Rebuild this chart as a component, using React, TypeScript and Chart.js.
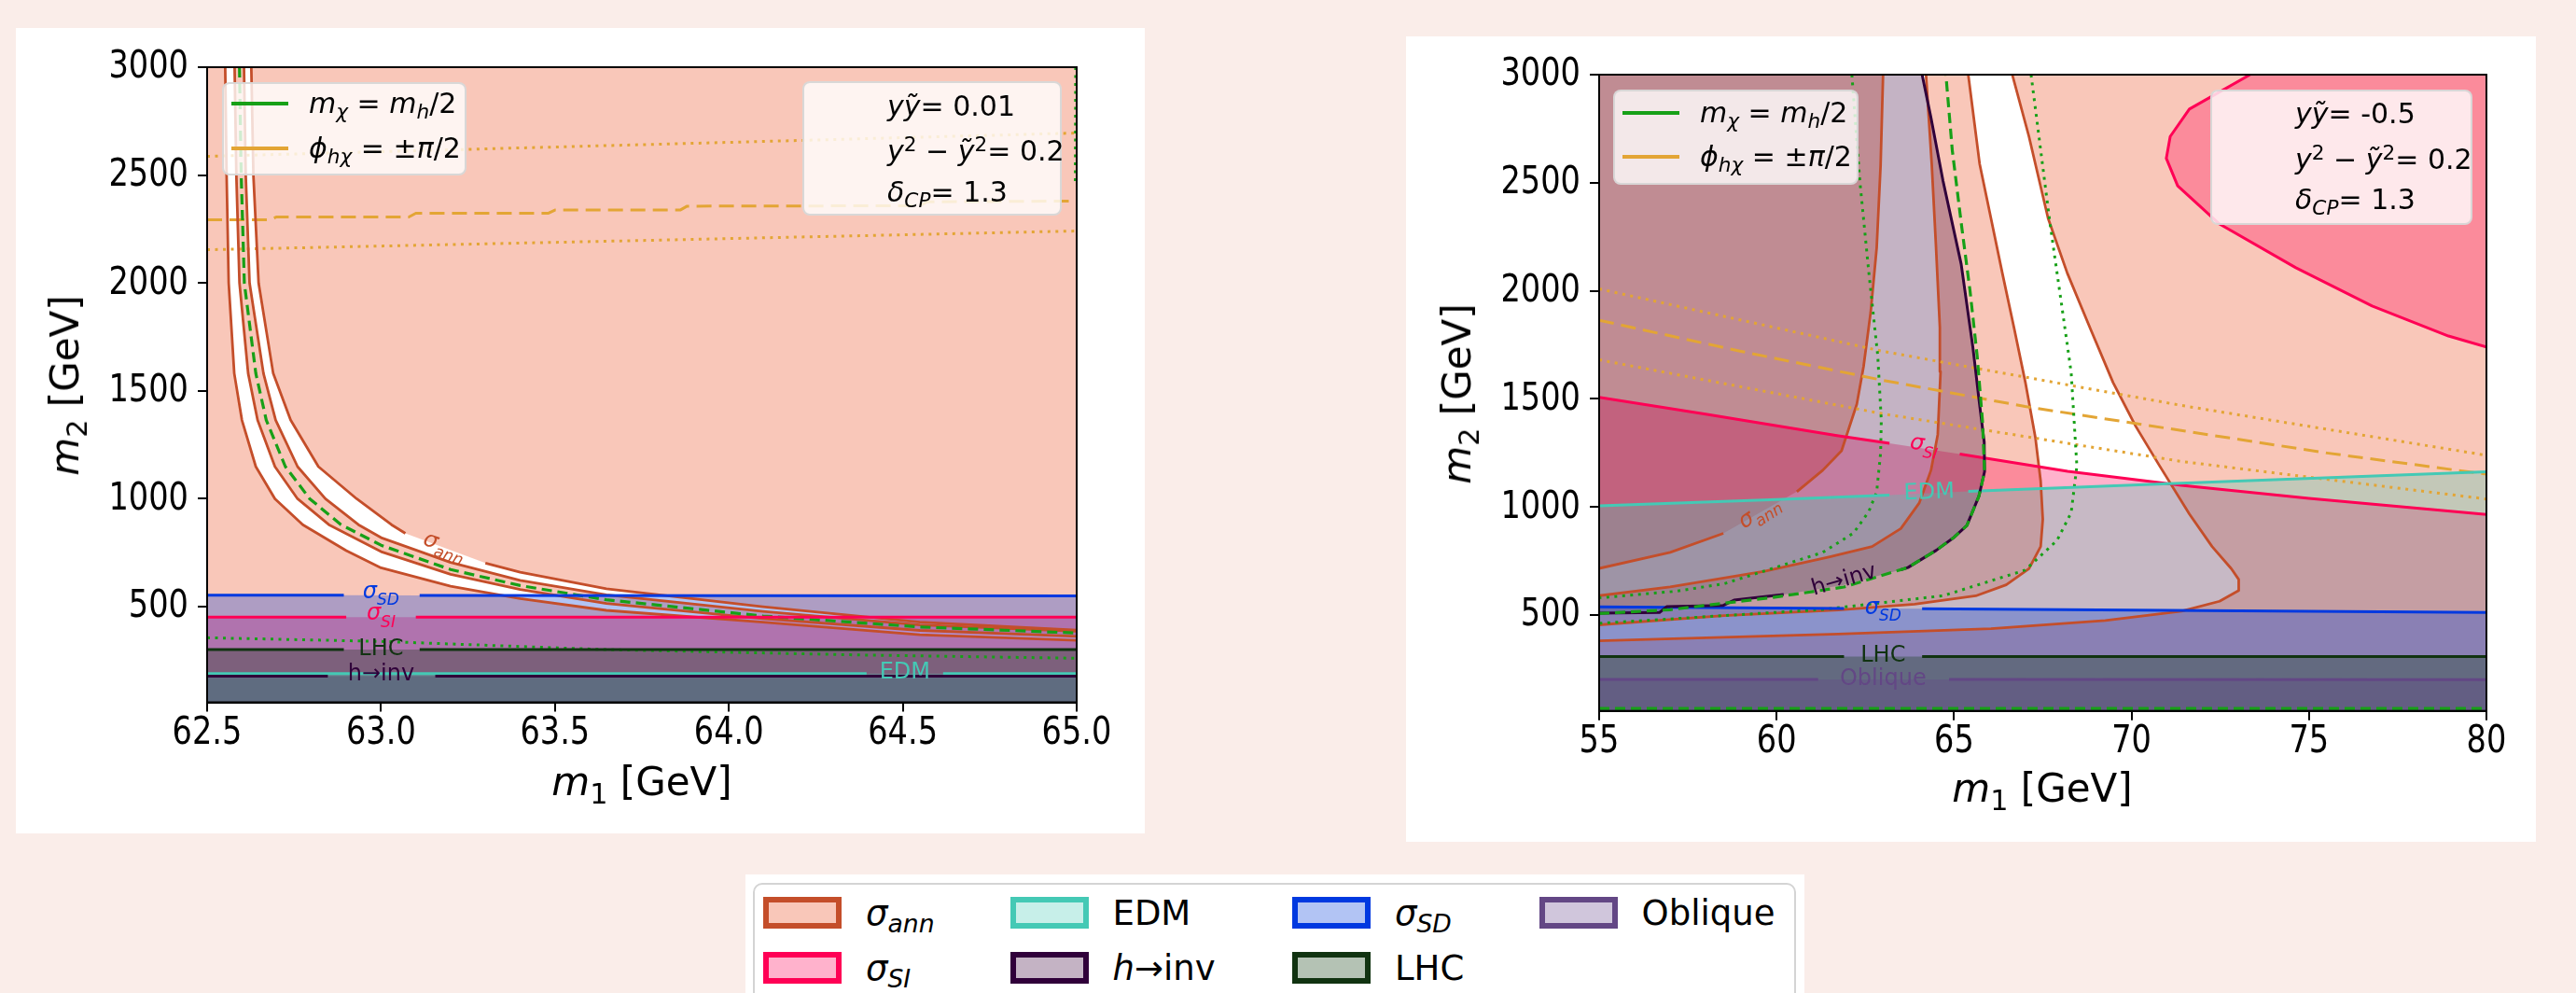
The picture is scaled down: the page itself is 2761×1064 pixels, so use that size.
import React, { useEffect, useRef } from 'react';
import { Chart, registerables } from 'chart.js';

Chart.register(...registerables);

type Pt = [number, number] | null;

// ---------------- shared axis data ----------------
const Y_RANGE: [number, number] = [57, 3000];
const Y_TICKS = [500, 1000, 1500, 2000, 2500, 3000];

// ---------------- left panel (yỹ = 0.01) ----------------
const L_X_RANGE: [number, number] = [62.5, 65.0];
const L_X_TICKS = [62.5, 63.0, 63.5, 64.0, 64.5, 65.0];

const L_ANN_1: Pt[] = [[62.552, 3000], [62.556, 2500], [62.562, 2000], [62.578, 1581], [62.6, 1365], [62.64, 1149], [62.695, 1000], [62.775, 880], [62.9, 760], [63.0, 680], [63.2, 595], [63.4, 538], [63.648, 483], [64.098, 428], [64.549, 370], [65.0, 344]];
const L_ANN_2: Pt[] = [[62.579, 3000], [62.584, 2500], [62.593, 2000], [62.618, 1581], [62.645, 1365], [62.695, 1149], [62.76, 1000], [62.85, 880], [63.0, 755], [63.2, 650], [63.4, 580], [63.648, 515], [64.098, 445], [64.549, 390], [65.0, 362]];
const L_ANN_3: Pt[] = [[62.606, 3000], [62.611, 2500], [62.622, 2000], [62.662, 1581], [62.697, 1365], [62.76, 1149], [62.84, 1000], [62.935, 880], [63.0, 820], [63.2, 705], [63.4, 622], [63.648, 555], [64.098, 478], [64.549, 415], [65.0, 386]];
const L_ANN_4: Pt[] = [[62.627, 3000], [62.633, 2500], [62.648, 2000], [62.69, 1581], [62.74, 1365], [62.82, 1149], [62.93, 1000], [63.03, 880], [63.07, 840], null, [63.3, 702], [63.4, 660], [63.648, 583], [64.098, 500], [64.549, 428], [65.0, 392]];
const L_MCHI: Pt[] = [[62.593, 3000], [62.598, 2500], [62.607, 2000], [62.64, 1581], [62.67, 1365], [62.725, 1149], [62.795, 1000], [62.885, 880], [63.0, 785], [63.2, 672], [63.4, 598], [63.648, 532], [64.098, 457], [64.549, 406], [65.0, 378]];
const L_MCHI_DOT: Pt[] = [[62.5, 356], [63.0, 339], [63.65, 301], [64.38, 276], [65.0, 261]];
const L_MCHI_DOT_EDGE: Pt[] = [[64.997, 3000], [64.996, 2450]];
const L_PHI_DOT_HI: Pt[] = [[62.5, 2587], [63.75, 2641], [65.0, 2695]];
const L_PHI_DASH: Pt[] = [[62.5, 2293], [62.68, 2293], [62.7, 2306], [63.08, 2306], [63.1, 2323], [63.48, 2323], [63.5, 2338], [63.86, 2338], [63.88, 2356], [64.55, 2358], [64.57, 2376], [65.0, 2380]];
const L_PHI_DOT_LO: Pt[] = [[62.5, 2154], [63.75, 2197], [65.0, 2241]];
const L_SD: Pt[] = [[62.5, 553], [62.893, 553], null, [63.111, 552], [65.0, 550]];
const L_SI: Pt[] = [[62.5, 452], [62.9, 452], null, [63.1, 452], [65.0, 452]];
const L_LHC: Pt[] = [[62.5, 301], [62.893, 301], null, [63.111, 301], [65.0, 301]];
const L_EDM: Pt[] = [[62.5, 190], [64.396, 190], null, [64.616, 190], [65.0, 190]];
const L_HINV: Pt[] = [[62.5, 178], [62.847, 178], null, [63.156, 178], [65.0, 178]];

// ---------------- right panel (yỹ = -0.5) ----------------
const R_X_RANGE: [number, number] = [55, 80];
const R_X_TICKS = [55, 60, 65, 70, 75, 80];

const R_ANN_1: Pt[] = [[55, 716], [57, 790], [58.5, 878], null, [60.57, 1071], [61.3, 1170], [61.83, 1260], [62.26, 1476], [62.45, 1650], [62.65, 1900], [62.82, 2200], [62.93, 2580], [63.0, 3000]];
const R_ANN_2: Pt[] = [[55, 590], [57, 630], [59.66, 703], [61.5, 770], [62.69, 817], [63.5, 900], [64.02, 1019], [64.35, 1170], [64.54, 1335], [64.62, 1626], [64.6, 1829], [64.49, 2208], [64.37, 2588], [64.21, 3000]];
const R_ANN_3: Pt[] = [[55, 455], [58.52, 498], [61.74, 524], [63.89, 551], [65.61, 589], [66.47, 640], [67.11, 715], [67.44, 817], [67.5, 943], [67.44, 1120], [67.29, 1323], [67.01, 1576], [66.69, 1829], [66.36, 2082], [66.04, 2335], [65.72, 2588], [65.4, 3000]];
const R_ANN_4: Pt[] = [[55, 381], [61.74, 412], [66.04, 437], [69.26, 475], [71.41, 518], [72.48, 564], [73.02, 614], [73.02, 665], [72.81, 715], [72.27, 817], [71.63, 968], [70.77, 1196], [70.12, 1373], [69.48, 1576], [68.83, 1829], [68.19, 2082], [67.65, 2335], [67.11, 2714], [66.64, 3000]];
const R_HINV: Pt[] = [[55, 509], [56.7, 512], [56.9, 539], [58.5, 545], [58.8, 569], [60.2, 595], null, [63.5, 710], [63.7, 720], [64.5, 800], [65.0, 860], [65.36, 914], [65.7, 1050], [65.86, 1164], [65.85, 1300], [65.7, 1500], [65.6, 1642], [65.53, 1739], [65.2, 2124], [64.69, 2508], [64.35, 2800], [64.1, 3000]];
const R_HINV_FULL: Pt[] = [[55, 509], [56.7, 512], [56.9, 539], [58.5, 545], [58.8, 569], [60.2, 595], [61.9, 640], [63.5, 710], [63.7, 720], [64.5, 800], [65.0, 860], [65.36, 914], [65.7, 1050], [65.86, 1164], [65.85, 1300], [65.7, 1500], [65.6, 1642], [65.53, 1739], [65.2, 2124], [64.69, 2508], [64.35, 2800], [64.1, 3000], [55, 3000]];
const R_MCHI: Pt[] = [[55, 507], [57, 525], [59.9, 582], [61.9, 630], [63.7, 720], [64.5, 800], [65.0, 860], [65.36, 914], [65.7, 1050], [65.86, 1164], [65.8, 1400], [65.65, 1700], [65.45, 2000], [65.2, 2316], [64.95, 2650], [64.77, 3000]];
const R_MCHI_BOTTOM: Pt[] = [[55, 68], [80, 68]];
const R_MCHI_DOT_1: Pt[] = [[62.12, 3000], [62.35, 2500], [62.6, 2082], [62.85, 1700], [62.95, 1400], [62.93, 1250], [62.82, 1070], [62.6, 980], [62.17, 880], [61.3, 790], [60.15, 730], [58.52, 645], [57.15, 610], [55, 580]];
const R_MCHI_DOT_2: Pt[] = [[67.17, 3000], [67.7, 2316], [68.2, 1739], [68.3, 1621], [68.46, 1190], [68.3, 974], [67.9, 845], [67.0, 708], [64.7, 590], [61.3, 526], [55, 462]];
const R_SI: Pt[] = [[55, 1507], [58, 1430], [61.7, 1330], [63.18, 1295], null, [65.16, 1245], [68.2, 1165], [71.4, 1100], [75, 1040], [80, 965]];
const R_SI_ELLIPSE: Pt[] = [[73.34, 3000], [71.63, 2841], [71.09, 2714], [70.98, 2613], [71.3, 2486], [72.48, 2309], [74.63, 2107], [76.78, 1930], [78.93, 1791], [80, 1740]];
const R_EDM: Pt[] = [[55, 1006], [60, 1035], [63.18, 1055], null, [65.4, 1072], [71.4, 1110], [80, 1163]];
const R_SD: Pt[] = [[55, 538], [61.9, 531], null, [64.1, 529], [80, 512]];
const R_LHC: Pt[] = [[55, 308], [61.9, 308], null, [64.1, 308], [80, 308]];
const R_OBL: Pt[] = [[55, 203], [61.17, 203], null, [64.86, 202], [80, 201]];
const R_PHI_DASH: Pt[] = [[55, 1864], [59, 1720], [63, 1586], [67, 1465], [71.4, 1354], [75.5, 1250], [80, 1152]];
const R_PHI_DOT_HI: Pt[] = [[55, 2009], [63, 1720], [71.4, 1470], [80, 1239]];
const R_PHI_DOT_LO: Pt[] = [[55, 1681], [63, 1431], [71.4, 1211], [80, 1037]];

// ---------------- colours ----------------
const C_ANN = '#c44e2a', F_ANN = 'rgba(236,68,24,0.3)';
const C_SI = '#ff0055', F_SI = 'rgba(255,0,85,0.3)';
const C_SD = '#0039e0', F_SD = 'rgba(0,58,218,0.3)';
const C_EDM = '#44c9b5', F_EDM = 'rgba(68,202,182,0.3)';
const C_HINV = '#30003a', F_HINV = 'rgba(58,2,58,0.3)';
const C_LHC = '#113311', F_LHC = 'rgba(8,52,8,0.3)';
const C_OBL = '#634785', F_OBL = 'rgba(98,65,138,0.3)';
const C_GREEN = '#17a017';
const C_PHI = '#e3a535';
const FONT = '"DejaVu Sans", sans-serif';

// ---------------- helpers ----------------
const toXY = (pts: Pt[]) =>
  pts.map((p, i) => {
    if (p) return { x: p[0], y: p[1] };
    const a = pts[i - 1] as [number, number];
    const b = pts[i + 1] as [number, number];
    return { x: (a[0] + b[0]) / 2, y: null };
  });
const solid = (pts: Pt[]) => pts.filter(Boolean) as [number, number][];

const poly = (pts: [number, number][], color: string) => ({
  data: toXY(pts), fill: 'shape', backgroundColor: color, borderColor: 'rgba(0,0,0,0)',
  borderWidth: 0, pointRadius: 0, tension: 0,
});
const line = (pts: Pt[], color: string, width: number, dash: number[] = []) => ({
  data: toXY(pts), fill: false, borderColor: color, borderWidth: width, borderDash: dash,
  pointRadius: 0, tension: 0, borderCapStyle: 'butt', borderJoinStyle: 'round',
});
const rect = (xr: [number, number]) => [[xr[0] - 1, Y_RANGE[0] - 300], [xr[1] + 1, Y_RANGE[0] - 300], [xr[1] + 1, Y_RANGE[1] + 300], [xr[0] - 1, Y_RANGE[1] + 300]] as [number, number][];
const below = (pts: Pt[], xr: [number, number]) => {
  const s = solid(pts);
  return [[xr[0] - 1, s[0][1]], ...s, [xr[1] + 1, s[s.length - 1][1]], [xr[1] + 1, Y_RANGE[0] - 300], [xr[0] - 1, Y_RANGE[0] - 300]] as [number, number][];
};
const band = (a: Pt[], b: Pt[]) => [...solid(a), ...solid(b).reverse()];

const DOT = [3, 5.5];
const DASH_G = [11, 6];
const DASH_O = [16, 8];

function leftDatasets() {
  const xr = L_X_RANGE;
  return [
    poly(rect(xr), F_ANN),
    poly(band(L_ANN_1, L_ANN_2), '#ffffff'),
    poly(band(L_ANN_3, L_ANN_4), '#ffffff'),
    poly(below(L_SI, xr), F_SI),
    poly(below(L_SD, xr), F_SD),
    poly(below(L_LHC, xr), F_LHC),
    poly(below(L_HINV, xr), F_HINV),
    poly(below(L_EDM, xr), F_EDM),
    line(L_PHI_DOT_HI, C_PHI, 3, DOT),
    line(L_PHI_DASH, C_PHI, 3, DASH_O),
    line(L_PHI_DOT_LO, C_PHI, 3, DOT),
    line(L_ANN_1, C_ANN, 2.8),
    line(L_ANN_2, C_ANN, 2.8),
    line(L_ANN_3, C_ANN, 2.8),
    line(L_ANN_4, C_ANN, 2.8),
    line(L_MCHI_DOT, C_GREEN, 3, DOT),
    line(L_MCHI_DOT_EDGE, C_GREEN, 3, DOT),
    line(L_MCHI, C_GREEN, 3.2, DASH_G),
    line(L_SI, C_SI, 3),
    line(L_SD, C_SD, 3),
    line(L_LHC, C_LHC, 3),
    line(L_EDM, C_EDM, 3),
    line(L_HINV, C_HINV, 3),
  ];
}

function rightDatasets() {
  const xr = R_X_RANGE;
  const ellipse = [...solid(R_SI_ELLIPSE), [81, 1715], [81, 3300], [73.5, 3300]] as [number, number][];
  return [
    poly(rect(xr), F_ANN),
    poly(band(R_ANN_1, R_ANN_2), '#ffffff'),
    poly(band(R_ANN_3, R_ANN_4), '#ffffff'),
    poly(below(R_SI, xr), F_SI),
    poly(ellipse, F_SI),
    poly(solid(R_HINV_FULL), F_HINV),
    poly(below(R_EDM, xr), F_EDM),
    poly(below(R_SD, xr), F_SD),
    poly(below(R_LHC, xr), F_LHC),
    poly(below(R_OBL, xr), F_OBL),
    line(R_ANN_1, C_ANN, 2.8),
    line(R_ANN_2, C_ANN, 2.8),
    line(R_ANN_3, C_ANN, 2.8),
    line(R_ANN_4, C_ANN, 2.8),
    line(R_PHI_DOT_HI, C_PHI, 3, DOT),
    line(R_PHI_DASH, C_PHI, 3, DASH_O),
    line(R_PHI_DOT_LO, C_PHI, 3, DOT),
    line(R_MCHI_DOT_1, C_GREEN, 3, DOT),
    line(R_MCHI_DOT_2, C_GREEN, 3, DOT),
    line(R_SI, C_SI, 3),
    line(R_SI_ELLIPSE, C_SI, 3),
    line(R_EDM, C_EDM, 3),
    line(R_SD, C_SD, 3),
    line(R_LHC, C_LHC, 3),
    line(R_OBL, C_OBL, 3),
    line(R_HINV, C_HINV, 3),
    line(R_MCHI, C_GREEN, 3.2, DASH_G),
    line(R_MCHI_BOTTOM, C_GREEN, 3.2, DASH_G),
  ];
}

type Lab = { text: string; sub?: string; x: number; y: number; rot: number; color: string; italic?: boolean };
const L_LABELS: Lab[] = [
  { text: 'σ', sub: 'ann', x: 63.18, y: 768, rot: 20, color: C_ANN, italic: true },
  { text: 'σ', sub: 'SD', x: 63.0, y: 553, rot: 0, color: C_SD, italic: true },
  { text: 'σ', sub: 'SI', x: 63.0, y: 452, rot: 0, color: C_SI, italic: true },
  { text: 'LHC', x: 63.0, y: 304, rot: 0, color: C_LHC },
  { text: 'h→inv', x: 63.0, y: 186, rot: 0, color: C_HINV },
  { text: 'EDM', x: 64.506, y: 196, rot: 0, color: C_EDM },
];
const R_LABELS: Lab[] = [
  { text: 'σ', sub: 'ann', x: 59.55, y: 965, rot: -33, color: C_ANN, italic: true },
  { text: 'σ', sub: 'SI', x: 64.15, y: 1275, rot: 9, color: C_SI, italic: true },
  { text: 'EDM', x: 64.3, y: 1066, rot: -2, color: C_EDM },
  { text: 'h→inv', x: 61.9, y: 660, rot: -16, color: C_HINV },
  { text: 'σ', sub: 'SD', x: 63.0, y: 518, rot: 0, color: C_SD, italic: true },
  { text: 'LHC', x: 63.0, y: 310, rot: 0, color: C_LHC },
  { text: 'Oblique', x: 63.0, y: 203, rot: 0, color: C_OBL },
];

const framePlugin = {
  id: 'frame',
  afterDatasetsDraw(chart: any) {
    const { ctx, chartArea: a } = chart;
    ctx.save();
    ctx.strokeStyle = '#000';
    ctx.lineWidth = 2;
    ctx.strokeRect(a.left, a.top, a.right - a.left, a.bottom - a.top);
    ctx.restore();
  },
};

// tick labels: DejaVu Sans, horizontally narrowed like the reference rendering
const tickLabelPlugin = (xticks: number[], fmt: (v: number) => string) => ({
  id: 'tickLabels',
  afterDraw(chart: any) {
    const { ctx, chartArea: a } = chart;
    const xs = chart.scales.x, ys = chart.scales.y;
    ctx.save();
    ctx.fillStyle = '#000';
    ctx.font = `40px ${FONT}`;
    ctx.textBaseline = 'middle';
    for (const v of xticks) {
      ctx.save();
      ctx.translate(xs.getPixelForValue(v), a.bottom + 34);
      ctx.scale(0.84, 1);
      ctx.textAlign = 'center';
      ctx.fillText(fmt(v), 0, 0);
      ctx.restore();
    }
    for (const v of Y_TICKS) {
      ctx.save();
      ctx.translate(a.left - 20, ys.getPixelForValue(v) + 1);
      ctx.scale(0.84, 1);
      ctx.textAlign = 'right';
      ctx.fillText(String(v), 0, 0);
      ctx.restore();
    }
    ctx.restore();
  },
});

const labelPlugin = (labels: Lab[]) => ({
  id: 'contourLabels',
  afterDatasetsDraw(chart: any) {
    const { ctx } = chart;
    const xs = chart.scales.x, ys = chart.scales.y;
    for (const lab of labels) {
      const px = xs.getPixelForValue(lab.x), py = ys.getPixelForValue(lab.y);
      const mainFont = `${lab.italic ? 'italic ' : ''}24px ${FONT}`;
      const subFont = `italic 17px ${FONT}`;
      ctx.save();
      ctx.translate(px, py);
      ctx.rotate((lab.rot * Math.PI) / 180);
      ctx.font = mainFont;
      const w1 = ctx.measureText(lab.text).width;
      let w2 = 0;
      if (lab.sub) { ctx.font = subFont; w2 = ctx.measureText(lab.sub).width; }
      const x0 = -(w1 + w2) / 2;
      ctx.fillStyle = lab.color;
      ctx.textAlign = 'left';
      ctx.textBaseline = 'middle';
      ctx.font = mainFont;
      ctx.fillText(lab.text, x0, lab.sub ? -3 : 0);
      if (lab.sub) { ctx.font = subFont; ctx.fillText(lab.sub, x0 + w1, 6); }
      ctx.restore();
    }
  },
});

function makeConfig(datasets: any[], xr: [number, number], xticks: number[], fmt: (v: number) => string, pad: any, labels: Lab[]) {
  const n = datasets.length;
  const ds = datasets.map((d, i) => ({ ...d, order: n - i }));
  return {
    type: 'line',
    data: { datasets: ds },
    options: {
      responsive: false,
      animation: false,
      devicePixelRatio: 1,
      events: [],
      layout: { padding: pad },
      plugins: { legend: { display: false }, tooltip: { enabled: false }, filler: { propagate: false } },
      scales: {
        x: {
          type: 'linear', min: xr[0], max: xr[1],
          afterBuildTicks: (s: any) => { s.ticks = xticks.map((v) => ({ value: v })); },
          afterFit: (s: any) => { s.height = 80; },
          ticks: { display: false, autoSkip: false, maxRotation: 0, callback: (v: any) => fmt(Number(v)) },
          grid: { drawOnChartArea: false, drawTicks: true, tickLength: 10, color: '#000', lineWidth: 2 },
          border: { display: true, color: '#000', width: 2 },
        },
        y: {
          type: 'linear', min: Y_RANGE[0], max: Y_RANGE[1],
          afterBuildTicks: (s: any) => { s.ticks = Y_TICKS.map((v) => ({ value: v })); },
          afterFit: (s: any) => { s.width = 120; },
          ticks: { display: false, autoSkip: false, callback: (v: any) => String(v) },
          grid: { drawOnChartArea: false, drawTicks: true, tickLength: 10, color: '#000', lineWidth: 2 },
          border: { display: true, color: '#000', width: 2 },
        },
      },
    },
    plugins: [framePlugin, labelPlugin(labels), tickLabelPlugin(xticks, fmt)],
  };
}

function ChartCanvas({ width, height, build }: { width: number; height: number; build: () => any }) {
  const ref = useRef<HTMLCanvasElement | null>(null);
  useEffect(() => {
    const chart = new Chart(ref.current as HTMLCanvasElement, build());
    return () => chart.destroy();
  }, []);
  return <canvas ref={ref} width={width} height={height} style={{ position: 'absolute', left: 0, top: 0, width, height }} />;
}

const Sub = ({ children }: any) => <span style={{ fontSize: '0.72em', position: 'relative', top: '0.3em' }}>{children}</span>;
const Sup = ({ children }: any) => <span style={{ fontSize: '0.72em', position: 'relative', top: '-0.48em' }}>{children}</span>;

const MChi = () => (<span><i>m</i><Sub><i>χ</i></Sub> = <i>m</i><Sub><i>h</i></Sub>/2</span>);
const PhiHChi = () => (<span><i>ϕ</i><Sub><i>hχ</i></Sub> = ±<i>π</i>/2</span>);

function InLegend({ left, top, w, h, rows }: any) {
  return (
    <div style={{ position: 'absolute', left, top, width: w, height: h, boxSizing: 'border-box', background: 'rgba(255,255,255,0.8)', border: '2px solid rgba(210,210,210,0.85)', borderRadius: 8 }}>
      {rows.map((r: any, i: number) => (
        <React.Fragment key={i}>
          <div style={{ position: 'absolute', left: 8, width: 61, top: r.y - 2, height: 4, background: r.color }} />
          <div style={{ position: 'absolute', left: 91, top: r.y, transform: 'translateY(-50%)', fontSize: 30, lineHeight: 1, whiteSpace: 'nowrap' }}>{r.label}</div>
        </React.Fragment>
      ))}
    </div>
  );
}

function ParamBox({ left, top, w, h, lines }: any) {
  return (
    <div style={{ position: 'absolute', left, top, width: w, height: h, boxSizing: 'border-box', background: 'rgba(255,255,255,0.8)', border: '2px solid rgba(210,210,210,0.85)', borderRadius: 8 }}>
      {lines.map((l: any, i: number) => (
        <div key={i} style={{ position: 'absolute', left: 89, top: l.y, transform: 'translateY(-50%)', fontSize: 30, lineHeight: 1, whiteSpace: 'nowrap' }}>{l.content}</div>
      ))}
    </div>
  );
}

function AxisTitles({ xc, xy, yc, yy, ylabelSub, xlabelSub }: any) {
  return (
    <>
      <div style={{ position: 'absolute', left: xc, top: xy, transform: 'translate(-50%,-50%)', fontSize: 42, lineHeight: 1, whiteSpace: 'nowrap' }}>
        <i>m</i><Sub>{xlabelSub}</Sub> [GeV]
      </div>
      <div style={{ position: 'absolute', left: yc, top: yy, transform: 'translate(-50%,-50%) rotate(-90deg)', fontSize: 42, lineHeight: 1, whiteSpace: 'nowrap' }}>
        <i>m</i><Sub>{ylabelSub}</Sub> [GeV]
      </div>
    </>
  );
}

const LEGEND_ITEMS = [
  { label: <span><i>σ</i><Sub><i>ann</i></Sub></span>, edge: C_ANN, fill: F_ANN, col: 0, row: 0 },
  { label: <span><i>σ</i><Sub><i>SI</i></Sub></span>, edge: C_SI, fill: F_SI, col: 0, row: 1 },
  { label: <span>EDM</span>, edge: C_EDM, fill: F_EDM, col: 1, row: 0 },
  { label: <span><i>h</i>→inv</span>, edge: C_HINV, fill: F_HINV, col: 1, row: 1 },
  { label: <span><i>σ</i><Sub><i>SD</i></Sub></span>, edge: C_SD, fill: F_SD, col: 2, row: 0 },
  { label: <span>LHC</span>, edge: C_LHC, fill: F_LHC, col: 2, row: 1 },
  { label: <span>Oblique</span>, edge: C_OBL, fill: F_OBL, col: 3, row: 0 },
];
const LEG_COL_X = [19, 283.5, 586, 850.6];
const LEG_ROW_Y = [24, 83];

export default function App() {
  useEffect(() => {
    document.body.style.margin = '0';
    document.body.style.overflow = 'hidden';
  }, []);
  const lPad = { left: 85, top: 42, right: 73, bottom: 60.5 };
  const rPad = { left: 87, top: 41, right: 53, bottom: 60.3 };
  return (
    <div style={{ position: 'fixed', left: 0, top: 0, width: 2761, height: 1064, background: '#faede9', overflow: 'hidden', fontFamily: FONT, color: '#000' }}>
      {/* left panel */}
      <div style={{ position: 'absolute', left: 17, top: 30, width: 1210, height: 863, background: '#fff' }}>
        <ChartCanvas width={1210} height={863} build={() => makeConfig(leftDatasets(), L_X_RANGE, L_X_TICKS, (v) => v.toFixed(1), lPad, L_LABELS)} />
        <AxisTitles xc={671} xy={808} yc={53} yy={383} xlabelSub="1" ylabelSub="2" />
        <InLegend left={221} top={58} w={262} h={100} rows={[{ y: 21, color: C_GREEN, label: <MChi /> }, { y: 69, color: C_PHI, label: <PhiHChi /> }]} />
        <ParamBox left={843} top={57} w={278} h={144} lines={[
          { y: 25, content: <span><i>yỹ</i>= 0.01</span> },
          { y: 73, content: <span><i>y</i><Sup>2</Sup> − <i>ỹ</i><Sup>2</Sup>= 0.2</span> },
          { y: 117, content: <span><i>δ</i><Sub><i>CP</i></Sub>= 1.3</span> },
        ]} />
      </div>
      {/* right panel */}
      <div style={{ position: 'absolute', left: 1507, top: 39, width: 1211, height: 863, background: '#fff' }}>
        <ChartCanvas width={1211} height={863} build={() => makeConfig(rightDatasets(), R_X_RANGE, R_X_TICKS, (v) => String(v), rPad, R_LABELS)} />
        <AxisTitles xc={682} xy={806} yc={55} yy={383} xlabelSub="1" ylabelSub="2" />
        <InLegend left={222} top={57} w={263} h={102} rows={[{ y: 23, color: C_GREEN, label: <MChi /> }, { y: 70, color: C_PHI, label: <PhiHChi /> }]} />
        <ParamBox left={862} top={57} w={281} h={145} lines={[
          { y: 24, content: <span><i>yỹ</i>= -0.5</span> },
          { y: 73, content: <span><i>y</i><Sup>2</Sup> − <i>ỹ</i><Sup>2</Sup>= 0.2</span> },
          { y: 116, content: <span><i>δ</i><Sub><i>CP</i></Sub>= 1.3</span> },
        ]} />
      </div>
      {/* shared legend */}
      <div style={{ position: 'absolute', left: 799, top: 937, width: 1135, height: 160, background: '#fff' }}>
        <div style={{ position: 'absolute', left: 8, top: 9, width: 1118, height: 160, boxSizing: 'border-box', border: '2px solid #d4d4d4', borderRadius: 10 }} />
        {LEGEND_ITEMS.map((it, i) => (
          <React.Fragment key={i}>
            <div style={{ position: 'absolute', left: LEG_COL_X[it.col], top: LEG_ROW_Y[it.row], width: 84, height: 34, boxSizing: 'border-box', border: `6px solid ${it.edge}`, background: '#fff' }}>
              <div style={{ position: 'absolute', inset: 0, background: it.fill }} />
            </div>
            <div style={{ position: 'absolute', left: LEG_COL_X[it.col] + 110, top: LEG_ROW_Y[it.row] + 17, transform: 'translateY(-50%)', fontSize: 37, lineHeight: 1, whiteSpace: 'nowrap' }}>
              {it.label}
            </div>
          </React.Fragment>
        ))}
      </div>
    </div>
  );
}
